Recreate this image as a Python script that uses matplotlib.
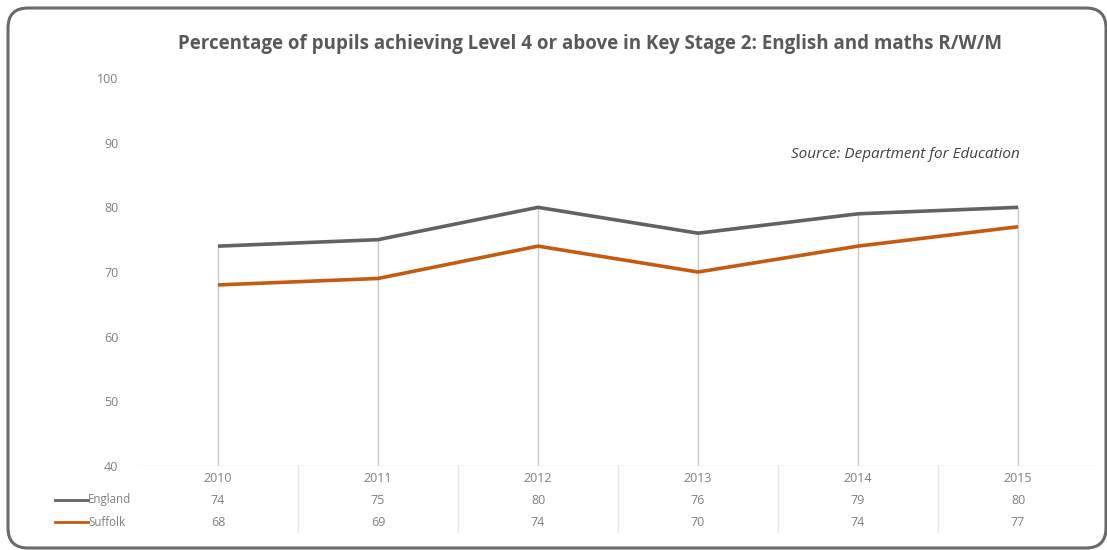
import matplotlib.pyplot as plt
from matplotlib.patches import FancyBboxPatch
from matplotlib.transforms import blended_transform_factory

years = ['2010', '2011', '2012', '2013', '2014', '2015']
england = [74, 75, 80, 76, 79, 80]
suffolk = [68, 69, 74, 70, 74, 77]
y_ticks = [40, 50, 60, 70, 80, 90, 100]

grey_line = '#626262'
orange = '#c55a11'
label_col = '#7f7f7f'
font = 'Open Sans'

fig = plt.figure(figsize=(11.07, 5.5), dpi=100)
fig.patch.set_facecolor('white')

# background axes in pixel units for the rounded frame
bg = fig.add_axes([0, 0, 1, 1])
bg.set_xlim(0, 1107)
bg.set_ylim(550, 0)
bg.axis('off')
bg.add_patch(FancyBboxPatch((8, 8), 1098, 540,
                            boxstyle='round,pad=0,rounding_size=20',
                            fill=False, edgecolor='#6a6a6a', linewidth=2.2))

ax = fig.add_axes([138 / 1107, (550 - 466) / 550, 960 / 1107, 388 / 550])
ax.patch.set_alpha(0)
x = list(range(len(years)))

# drop lines from each point down to the axis
for i in x:
    ax.plot([i, i], [40, max(england[i], suffolk[i])], color='#c8c8c8', lw=1, zorder=1)

ax.plot(x, england, color=grey_line, lw=2.6, zorder=3, solid_capstyle='butt')
ax.plot(x, suffolk, color=orange, lw=2.6, zorder=3, solid_capstyle='butt')

ax.set_xlim(-0.5, 5.5)
ax.set_ylim(40, 100)
ax.set_yticks(y_ticks)
ax.set_yticklabels([str(v) for v in y_ticks], fontsize=9, color=label_col, family=font)
ax.tick_params(axis='y', length=0, pad=14)
ax.set_xticks([])
for s in ax.spines.values():
    s.set_visible(False)
ax.axhline(40, color='#d9d9d9', lw=1, zorder=0)


def row_y(px):
    return (550 - px) / 550


# data table under the axis
tr = blended_transform_factory(ax.transData, fig.transFigure)
for i in x:
    ax.text(i, row_y(478), years[i], transform=tr, ha='center', va='center',
            fontsize=9, color=label_col, family=font, clip_on=False)
    ax.text(i, row_y(500), str(england[i]), transform=tr, ha='center', va='center',
            fontsize=9, color=label_col, family=font, clip_on=False)
    ax.text(i, row_y(522), str(suffolk[i]), transform=tr, ha='center', va='center',
            fontsize=9, color=label_col, family=font, clip_on=False)
for i in range(len(years) - 1):
    b = i + 0.5
    ax.plot([b, b], [row_y(466), row_y(532)], transform=tr, color='#e6e6e6',
            lw=1, clip_on=False)

# legend keys in the table
bg.plot([55, 88], [500, 500], color=grey_line, lw=2)
bg.plot([55, 88], [522, 522], color=orange, lw=2)
bg.text(88, 500, 'England', ha='left', va='center',
        fontsize=8.3, color=label_col, family=font)
bg.text(88, 522, 'Suffolk', ha='left', va='center',
        fontsize=8.3, color=label_col, family=font)

bg.text(590, 44,
        'Percentage of pupils achieving Level 4 or above in Key Stage 2: English and maths R/W/M',
        ha='center', va='center', fontsize=13.5, fontweight='bold', color='#595959', family=font)
bg.text(1020, 155, 'Source: Department for Education',
        ha='right', va='center', fontsize=11, style='italic', color='#404040', family=font)

plt.savefig('out.png', dpi=100)
